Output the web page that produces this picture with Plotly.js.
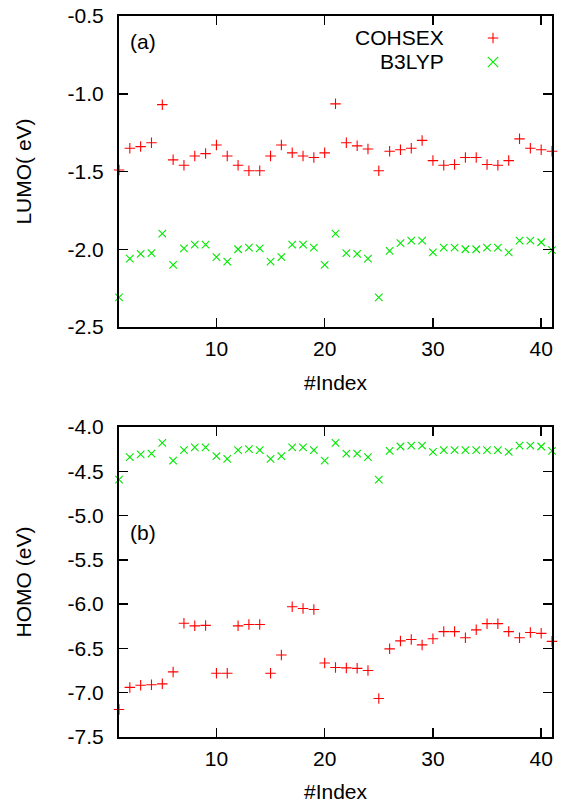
<!DOCTYPE html>
<html>
<head>
<meta charset="utf-8">
<script src="https://cdn.plot.ly/plotly-3.0.1.min.js"></script>
<style>html,body{margin:0;padding:0;background:#fff;}#chart{width:562px;height:803px;}</style>
</head>
<body>
<div id="chart"></div>
<script>
// ---- data ----
var indexValues = [1,2,3,4,5,6,7,8,9,10,11,12,13,14,15,16,17,18,19,20,21,22,23,24,25,26,27,28,29,30,31,32,33,34,35,36,37,38,39,40,41];
var lumoCOHSEX = [-1.49,-1.35,-1.34,-1.315,-1.07,-1.425,-1.46,-1.40,-1.385,-1.33,-1.40,-1.46,-1.495,-1.495,-1.40,-1.33,-1.38,-1.40,-1.41,-1.38,-1.065,-1.315,-1.335,-1.355,-1.495,-1.37,-1.36,-1.35,-1.30,-1.43,-1.46,-1.455,-1.41,-1.41,-1.455,-1.46,-1.43,-1.29,-1.35,-1.36,-1.37];
var lumoB3LYP = [-2.31,-2.06,-2.03,-2.025,-1.90,-2.10,-1.995,-1.97,-1.97,-2.05,-2.08,-2.00,-1.99,-1.995,-2.08,-2.05,-1.97,-1.97,-1.99,-2.10,-1.90,-2.025,-2.03,-2.06,-2.31,-2.01,-1.96,-1.945,-1.945,-2.02,-1.99,-1.99,-2.00,-2.00,-1.99,-1.99,-2.02,-1.945,-1.945,-1.955,-2.005];
var homoCOHSEX = [-7.19,-6.94,-6.915,-6.91,-6.90,-6.765,-6.215,-6.245,-6.24,-6.78,-6.78,-6.245,-6.23,-6.23,-6.78,-6.575,-6.03,-6.05,-6.06,-6.665,-6.715,-6.72,-6.725,-6.75,-7.065,-6.505,-6.415,-6.40,-6.46,-6.39,-6.31,-6.31,-6.38,-6.29,-6.22,-6.22,-6.31,-6.38,-6.32,-6.33,-6.42];
var homoB3LYP = [-4.595,-4.34,-4.31,-4.30,-4.18,-4.38,-4.26,-4.23,-4.23,-4.33,-4.36,-4.26,-4.25,-4.26,-4.36,-4.33,-4.23,-4.23,-4.26,-4.38,-4.18,-4.30,-4.30,-4.34,-4.595,-4.27,-4.22,-4.21,-4.21,-4.28,-4.26,-4.26,-4.26,-4.26,-4.26,-4.26,-4.28,-4.21,-4.21,-4.22,-4.27];
var seriesNames = ["COHSEX", "B3LYP"];
var xTickVals = [10,20,30,40];
var lumoTickVals = [-0.5,-1.0,-1.5,-2.0,-2.5];
var lumoTickText = ["-0.5","-1.0","-1.5","-2.0","-2.5"];
var homoTickVals = [-4.0,-4.5,-5.0,-5.5,-6.0,-6.5,-7.0,-7.5];
var homoTickText = ["-4.0","-4.5","-5.0","-5.5","-6.0","-6.5","-7.0","-7.5"];

// ---- styles ----
var RED = "#ff0000", GREEN = "#00e800";
var FONT = {family: "Liberation Sans, Arial, sans-serif", size: 21, color: "#000"};
var W = 562, H = 803, M = {l: 119, r: 10, t: 16, b: 66};
function px2x(px){ return (px - M.l) / (W - M.l - M.r); }
function px2y(py){ return (H - M.b - py) / (H - M.t - M.b); }

function mk(x, y, name, sym, color, xa, ya) {
  return {x: x, y: y, name: name, type: "scatter", mode: "markers", xaxis: xa, yaxis: ya,
    cliponaxis: false, showlegend: false,
    marker: {symbol: sym, size: 7.5, color: color, line: {color: color, width: 1.1}}};
}
var traces = [
  mk(indexValues, lumoCOHSEX, seriesNames[0], "cross-thin", RED, "x", "y"),
  mk(indexValues, lumoB3LYP, seriesNames[1], "x-thin", GREEN, "x", "y"),
  mk(indexValues, homoCOHSEX, seriesNames[0], "cross-thin", RED, "x2", "y2"),
  mk(indexValues, homoB3LYP, seriesNames[1], "x-thin", GREEN, "x2", "y2")
];

function xax(anchor) {
  return {anchor: anchor, range: [1, 41], tickmode: "array", tickvals: xTickVals,
    ticks: "inside", ticklen: 9, tickwidth: 1.5, tickcolor: "#000",
    showline: true, linewidth: 2, linecolor: "#000", mirror: "ticks",
    showgrid: false, zeroline: false, tickfont: FONT, ticklabelstandoff: 2,
    title: {text: "#Index", font: FONT, standoff: 16}};
}
function yax(anchor, domain, range, vals, text, title) {
  return {anchor: anchor, domain: domain, range: range, tickmode: "array", tickvals: vals, ticktext: text,
    ticks: "inside", ticklen: 9, tickwidth: 1.5, tickcolor: "#000",
    showline: true, linewidth: 2, linecolor: "#000", mirror: "ticks",
    showgrid: false, zeroline: false, tickfont: FONT, ticklabelstandoff: 9,
    title: {text: title, font: FONT, standoff: 30}};
}

var legendShapes = [];
function plusShape(cx, cy, r, color) {
  legendShapes.push({type: "line", xref: "paper", yref: "paper", x0: px2x(cx - r), x1: px2x(cx + r), y0: px2y(cy), y1: px2y(cy), line: {color: color, width: 1.1}});
  legendShapes.push({type: "line", xref: "paper", yref: "paper", x0: px2x(cx), x1: px2x(cx), y0: px2y(cy - r), y1: px2y(cy + r), line: {color: color, width: 1.1}});
}
function crossShape(cx, cy, r, color) {
  legendShapes.push({type: "line", xref: "paper", yref: "paper", x0: px2x(cx - r), x1: px2x(cx + r), y0: px2y(cy - r), y1: px2y(cy + r), line: {color: color, width: 1.1}});
  legendShapes.push({type: "line", xref: "paper", yref: "paper", x0: px2x(cx - r), x1: px2x(cx + r), y0: px2y(cy + r), y1: px2y(cy - r), line: {color: color, width: 1.1}});
}
plusShape(493, 38, 5.2, RED);
crossShape(493, 62, 5.2, GREEN);

var layout = {
  width: W, height: H, margin: M, paper_bgcolor: "#fff", plot_bgcolor: "#fff",
  font: FONT, showlegend: false,
  xaxis: xax("y"),
  yaxis: yax("x", [px2y(327), 1], [-2.5, -0.5], lumoTickVals, lumoTickText, "LUMO( eV)"),
  xaxis2: xax("y2"),
  yaxis2: yax("x2", [0, px2y(427)], [-7.5, -4.0], homoTickVals, homoTickText, "HOMO (eV)"),
  shapes: legendShapes,
  annotations: [
    {xref: "paper", yref: "paper", x: px2x(446), y: px2y(38), xanchor: "right", yanchor: "middle", text: seriesNames[0], showarrow: false, font: FONT},
    {xref: "paper", yref: "paper", x: px2x(446), y: px2y(62), xanchor: "right", yanchor: "middle", text: seriesNames[1], showarrow: false, font: FONT},
    {xref: "paper", yref: "paper", x: px2x(128), y: px2y(42), xanchor: "left", yanchor: "middle", text: "(a)", showarrow: false, font: FONT},
    {xref: "paper", yref: "paper", x: px2x(128), y: px2y(532), xanchor: "left", yanchor: "middle", text: "(b)", showarrow: false, font: FONT}
  ]
};
Plotly.newPlot("chart", traces, layout, {displayModeBar: false, staticPlot: true});
</script>
</body>
</html>
